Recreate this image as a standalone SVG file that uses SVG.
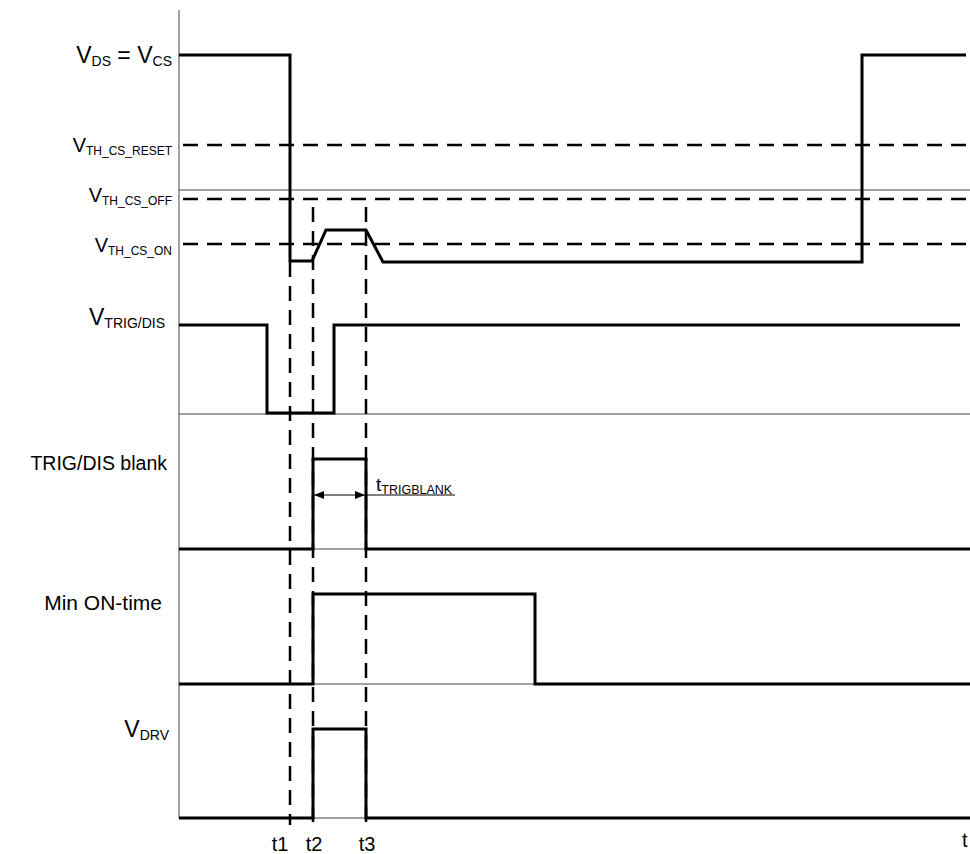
<svg xmlns="http://www.w3.org/2000/svg" width="970" height="854" viewBox="0 0 970 854">
<style>
.thin{fill:none;stroke:#444;stroke-width:1}
.dash{fill:none;stroke:#000;stroke-width:2.5;stroke-dasharray:15 9}
.wave{fill:none;stroke:#000;stroke-width:3;stroke-linejoin:miter}
.lbl{font-family:"Liberation Sans",Arial,sans-serif;fill:#000}
</style>
<defs>
<marker id="ah" viewBox="0 0 10 10" refX="10" refY="5" markerWidth="10" markerHeight="10" markerUnits="userSpaceOnUse" orient="auto-start-reverse">
<path d="M0,1 L10,5 L0,9 Z" fill="#000"/>
</marker>
</defs>
<g id="grid">
<line class="thin" x1="179" y1="10" x2="179" y2="818"/>
<line class="thin" x1="179" y1="190" x2="970" y2="190"/>
<line class="thin" x1="179" y1="414" x2="970" y2="414"/>
<line class="thin" x1="313" y1="549" x2="366" y2="549"/>
<line class="thin" x1="313" y1="684" x2="535" y2="684"/>
<line class="thin" x1="313" y1="818" x2="366" y2="818"/>
</g>
<g id="thresholds">
<line class="dash" x1="183" y1="145" x2="970" y2="145"/>
<line class="dash" x1="183" y1="199" x2="970" y2="199"/>
<line class="dash" x1="183" y1="244" x2="970" y2="244"/>
</g>
<g id="connectors">
<line class="dash" x1="290" y1="262" x2="290" y2="825"/>
<line class="dash" x1="313" y1="207" x2="313" y2="825"/>
<line class="dash" x1="366" y1="207" x2="366" y2="825"/>
<line x1="314" y1="495" x2="365" y2="495" stroke="#000" stroke-width="1" marker-start="url(#ah)" marker-end="url(#ah)"/>
<line x1="366" y1="495" x2="455" y2="495" stroke="#000" stroke-width="1"/>
</g>
<g id="vds">
<path class="wave" d="M179,55 H290 V261 H312 L326,230 H366 L383,262 H862 V55 H966"/>
<text class="lbl" x="172" y="63" text-anchor="end" font-size="23">V<tspan font-size="14" dy="3">DS</tspan><tspan dy="-3"> = V</tspan><tspan font-size="14" dy="3">CS</tspan></text>
</g>
<g id="vth-reset">
<text class="lbl" x="172" y="152" text-anchor="end" font-size="20">V<tspan font-size="12" dy="3">TH_CS_RESET</tspan></text>
</g>
<g id="vth-off">
<text class="lbl" x="172" y="202" text-anchor="end" font-size="20">V<tspan font-size="12" dy="3">TH_CS_OFF</tspan></text>
</g>
<g id="vth-on">
<text class="lbl" x="172" y="252" text-anchor="end" font-size="20">V<tspan font-size="12" dy="3">TH_CS_ON</tspan></text>
</g>
<g id="vtrig">
<path class="wave" d="M179,325 H267 V413 H334 V325 H960"/>
<text class="lbl" x="165" y="325" text-anchor="end" font-size="23">V<tspan font-size="14" dy="3">TRIG/DIS</tspan></text>
</g>
<g id="trigblank">
<path class="wave" d="M179,549 H313 V459 H366 V549 H970"/>
<text class="lbl" x="167" y="470" text-anchor="end" font-size="19.5">TRIG/DIS blank</text>
<text class="lbl" x="376" y="491" font-size="19">t<tspan font-size="12.5" dy="3">TRIGBLANK</tspan></text>
</g>
<g id="minon">
<path class="wave" d="M179,684 H313 V594 H535 V684 H970"/>
<text class="lbl" x="162" y="610" text-anchor="end" font-size="21">Min ON-time</text>
</g>
<g id="vdrv">
<path class="wave" d="M179,818 H313 V729 H366 V818 H970"/>
<text class="lbl" x="169" y="737" text-anchor="end" font-size="23">V<tspan font-size="14" dy="3">DRV</tspan></text>
</g>
<g id="time-labels">
<text class="lbl" x="280" y="851" text-anchor="middle" font-size="20">t1</text>
<text class="lbl" x="314" y="851" text-anchor="middle" font-size="20">t2</text>
<text class="lbl" x="367" y="851" text-anchor="middle" font-size="20">t3</text>
<text class="lbl" x="962" y="847" font-size="20">t</text>
</g>
</svg>
